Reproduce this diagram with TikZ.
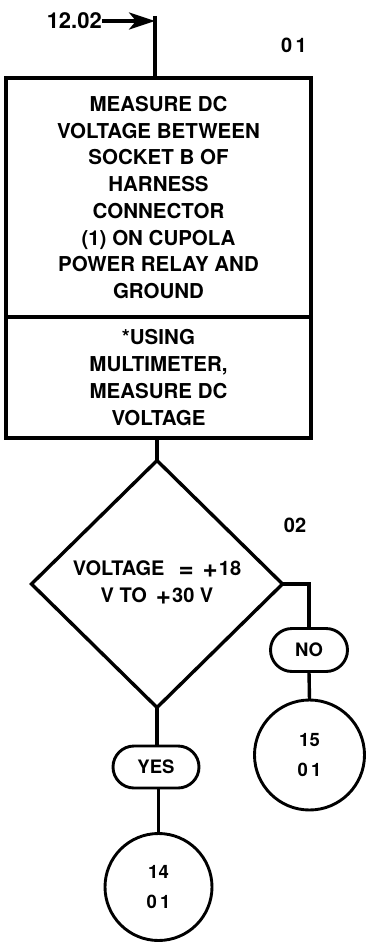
\documentclass[tikz,border=0pt]{standalone}
\usepackage{fontspec}
\setmainfont{TeX Gyre Heros}[BoldFont={* Bold}]
\usetikzlibrary{arrows.meta,shapes.geometric,shapes.misc}
\newcommand{\bigop}[1]{\raisebox{-1.6pt}{\fontsize{26}{26}\selectfont #1}}
\tikzset{
  txt/.style={font=\fontsize{20.5}{26.7}\selectfont\bfseries, align=center},
  box/.style={draw, line width=3.3pt, inner sep=0pt, outer sep=0pt, txt},
  dec/.style={draw, diamond, line width=3.4pt, inner sep=0pt, outer sep=0pt,
    align=center, font=\fontsize{20}{27}\selectfont\bfseries},
  pill/.style={draw, rounded rectangle, line width=2.9pt, inner sep=0pt, outer sep=0pt,
    font=\fontsize{18.5}{22}\selectfont\bfseries},
  conn/.style={draw, circle, line width=2.9pt, inner sep=0pt, outer sep=0pt, align=center,
    font=\fontsize{18.5}{30}\selectfont\bfseries},
  lbl/.style={font=\fontsize{20}{22}\selectfont\bfseries, inner sep=0pt},
  wire/.style={line width=3.4pt},
}
\begin{document}
\begin{tikzpicture}[x=1pt,y=-1pt]
\useasboundingbox (0,0) rectangle (366,942);
% entry
\node[lbl, anchor=east, font=\fontsize{22}{24}\selectfont\bfseries] (ref) at (102,21) {12.02};
\coordinate (entry) at (155,21);
\coordinate (topend) at (155,16);
\node[lbl] (s01) at (294,45) {0\,1};
\node[box, minimum width=305pt, minimum height=239pt] (b1) at (158.5,197.5)
  {MEASURE DC\\VOLTAGE BETWEEN\\SOCKET B OF\\HARNESS\\CONNECTOR\\(1) ON CUPOLA\\POWER RELAY AND\\GROUND};
\node[box, minimum width=305pt, minimum height=121pt, anchor=north] (b2) at (b1.south)
  {*USING\\MULTIMETER,\\MEASURE DC\\VOLTAGE};
\node[dec, minimum width=251pt, minimum height=247pt] (d) at (157,584)
  {\raisebox{-5pt}{\begin{tabular}{@{}c@{}}VOLTAGE\hspace{14pt}\bigop{=}\hspace{9pt}\bigop{+}\hspace{1pt}18\\V TO\hspace{9pt}\bigop{+}\hspace{1pt}30 V\end{tabular}}};
\node[lbl] (s02) at (295,525) {02};
\node[pill, minimum width=77pt, minimum height=43pt] (no) at (309,650) {NO};
\node[conn, minimum size=110pt] (c15) at (309.5,755) {15\\0\,1};
\node[pill, minimum width=86pt, minimum height=42pt] (yes) at (156,767) {YES};
\node[conn, minimum size=107pt] (c14) at (158.5,887) {14\\0\,1};
% connectors
\draw[wire, -{Stealth[length=26pt,width=17pt,inset=7pt]}] (ref.east) -- (entry);
\draw[wire] (topend) -- (b1.north -| topend);
\draw[wire] (b2.south -| d.north) -- (d.north);
\draw[wire] (d.east) -| (no.north);
\draw[wire] (no.south) -- (c15.north);
\draw[wire] (d.south) -- (yes.north -| d.south);
\draw[wire] (yes.south -| c14.north) -- (c14.north);
\end{tikzpicture}
\end{document}
